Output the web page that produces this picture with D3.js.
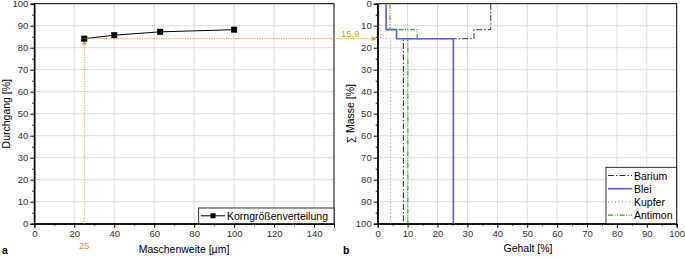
<!DOCTYPE html>
<html>
<head>
<meta charset="utf-8">
<script src="https://cdn.jsdelivr.net/npm/d3@7"></script>
<style>
  body { margin: 0; background: #fff; }
  svg { display: block; font-family: "Liberation Sans", Arial, sans-serif; }
  .tick text { fill: #333; font-size: 9.5px; }
  .tick line, .domain { stroke: #000; }
</style>
</head>
<body>
<svg id="chart" width="685" height="258"></svg>
<script>
// Grafik a: Korngrößenverteilung (Durchgang über Maschenweite)
const siebWeiten = [25, 40, 63, 100];
const durchgang = [84.1, 85.7, 87.2, 88.2];
const markWeite = 25;
const markDurchgang = 84.1;

// Grafik b: Gehalt über kumulierter Masse (Treppenlinien)
// jede Stufe: [Gehalt, Masse von, Masse bis]
const barium = [[37.8, 0, 11.8], [32.2, 11.8, 15.9], [8.6, 15.9, 100]];
const blei = [[2.8, 0, 11.8], [6.3, 11.8, 15.9], [25.3, 15.9, 100]];
const kupfer = [[0.5, 0, 11.8], [1.0, 11.8, 15.9], [4.3, 15.9, 100]];
const antimon = [[4.1, 0, 11.8], [13.2, 11.8, 15.9], [10.1, 15.9, 100]];

const serien = [
  { name: "Barium", data: barium, color: "#333", dash: "6,2,1.5,2", width: 1 },
  { name: "Blei", data: blei, color: "#5a5aff", dash: null, width: 1.6 },
  { name: "Kupfer", data: kupfer, color: "#ff7070", dash: "1,2.5", width: 1.1 },
  { name: "Antimon", data: antimon, color: "#3a9a3a", dash: "5,1.5,1,1.5,1,1.5", width: 1.1 },
];

const orange = "#f7941d";
const svg = d3.select("#chart");
const yTop = 3.7, yBot = 223.7;

// ---------- Grafik a ----------
const xA = d3.scaleLinear().domain([0, 150]).range([34.3, 334]);
const yA = d3.scaleLinear().domain([0, 100]).range([yBot, yTop]);
const gA = svg.append("g");

// Gitter
gA.append("g").selectAll("line").data(d3.range(20, 150, 20)).join("line")
  .attr("x1", d => xA(d)).attr("x2", d => xA(d)).attr("y1", yTop).attr("y2", yBot)
  .attr("stroke", "#ddd");
gA.append("g").selectAll("line").data(d3.range(10, 100, 10)).join("line")
  .attr("y1", d => yA(d)).attr("y2", d => yA(d)).attr("x1", xA(0)).attr("x2", xA(150))
  .attr("stroke", "#ddd");

// Rahmen
gA.append("rect").attr("x", xA(0)).attr("y", yTop).attr("width", xA(150) - xA(0))
  .attr("height", yBot - yTop).attr("fill", "none").attr("stroke", "#000");

// Achsen mit Nebenstrichen
gA.append("g").attr("transform", `translate(0,${yBot})`)
  .call(d3.axisBottom(xA).tickValues(d3.range(10, 150, 20)).tickSize(2).tickFormat(""));
gA.append("g").attr("transform", `translate(0,${yBot})`)
  .call(d3.axisBottom(xA).tickValues(d3.range(0, 141, 20)).tickSize(4).tickPadding(3));
gA.append("g").attr("transform", `translate(${xA(0)},0)`)
  .call(d3.axisLeft(yA).tickValues(d3.range(5, 100, 10)).tickSize(2).tickFormat(""));
gA.append("g").attr("transform", `translate(${xA(0)},0)`)
  .call(d3.axisLeft(yA).tickValues(d3.range(0, 101, 10)).tickSize(4).tickPadding(2));

// Markierungslinien (orange, gepunktet)
gA.append("line").attr("x1", xA(markWeite)).attr("x2", xA(markWeite))
  .attr("y1", yA(markDurchgang) + 4).attr("y2", yBot)
  .attr("stroke", orange).attr("stroke-dasharray", "1.2,1.2");
gA.append("path")
  .attr("d", `M${xA(markWeite)},${yA(markDurchgang) + 1} l-2.5,5 l5,0 z`)
  .attr("fill", orange);

// Linie + Punkte
const lineA = d3.line().x((d, i) => xA(siebWeiten[i])).y(d => yA(d));
gA.append("path").datum(durchgang).attr("d", lineA)
  .attr("fill", "none").attr("stroke", "#000").attr("stroke-width", 1);
gA.selectAll(".pt").data(durchgang).join("rect").attr("class", "pt")
  .attr("x", (d, i) => xA(siebWeiten[i]) - 3).attr("y", d => yA(d) - 3)
  .attr("width", 6).attr("height", 6).attr("fill", "#000");

// Beschriftungen
gA.append("text").attr("x", xA(markWeite)).attr("y", 249).attr("text-anchor", "middle")
  .attr("font-size", 9.5).attr("fill", orange).text(markWeite);
gA.append("text").attr("x", 184).attr("y", 253).attr("text-anchor", "middle")
  .attr("font-size", 10.5).text("Maschenweite [µm]");
gA.append("text").attr("transform", `translate(10,${(yTop + yBot) / 2}) rotate(-90)`)
  .attr("text-anchor", "middle").attr("font-size", 10.5).text("Durchgang [%]");
gA.append("text").attr("x", 2).attr("y", 254).attr("font-size", 10.5)
  .attr("font-weight", "bold").text("a");

// Legende
const legA = gA.append("g");
legA.append("rect").attr("x", 198.7).attr("y", 208).attr("width", xA(150) - 198.7)
  .attr("height", yBot - 208).attr("fill", "#fff").attr("stroke", "#000").attr("stroke-width", 0.8);
legA.append("line").attr("x1", 201).attr("x2", 225).attr("y1", 215.8).attr("y2", 215.8)
  .attr("stroke", "#000");
legA.append("rect").attr("x", 210.5).attr("y", 213.3).attr("width", 5).attr("height", 5).attr("fill", "#000");
legA.append("text").attr("x", 227).attr("y", 219.7).attr("font-size", 10.5)
  .text("Korngrößenverteilung");

// ---------- Grafik b ----------
const xB = d3.scaleLinear().domain([0, 100]).range([377.7, 676.7]);
const yB = d3.scaleLinear().domain([0, 100]).range([yTop, yBot]);
const gB = svg.append("g");

gB.append("g").selectAll("line").data(d3.range(10, 100, 10)).join("line")
  .attr("x1", d => xB(d)).attr("x2", d => xB(d)).attr("y1", yTop).attr("y2", yBot)
  .attr("stroke", "#ddd");
gB.append("g").selectAll("line").data(d3.range(10, 100, 10)).join("line")
  .attr("y1", d => yB(d)).attr("y2", d => yB(d)).attr("x1", xB(0)).attr("x2", xB(100))
  .attr("stroke", "#ddd");

gB.append("rect").attr("x", xB(0)).attr("y", yTop).attr("width", xB(100) - xB(0))
  .attr("height", yBot - yTop).attr("fill", "none").attr("stroke", "#000");

gB.append("g").attr("transform", `translate(0,${yBot})`)
  .call(d3.axisBottom(xB).tickValues(d3.range(5, 100, 10)).tickSize(2).tickFormat(""));
gB.append("g").attr("transform", `translate(0,${yBot})`)
  .call(d3.axisBottom(xB).tickValues(d3.range(0, 101, 10)).tickSize(4).tickPadding(3));
gB.append("g").attr("transform", `translate(${xB(0)},0)`)
  .call(d3.axisLeft(yB).tickValues(d3.range(5, 100, 10)).tickSize(2).tickFormat(""));
gB.append("g").attr("transform", `translate(${xB(0)},0)`)
  .call(d3.axisLeft(yB).tickValues(d3.range(0, 101, 10)).tickSize(4).tickPadding(2));

// Treppenlinien
const stepLine = d3.line().x(d => xB(d[0])).y(d => yB(d[1]));
serien.forEach(s => {
  const pts = [];
  s.data.forEach(([g, m0, m1]) => { pts.push([g, m0], [g, m1]); });
  gB.append("path").datum(pts).attr("d", stepLine).attr("fill", "none")
    .attr("stroke", s.color).attr("stroke-width", s.width)
    .attr("stroke-dasharray", s.dash);
});

// Verbindungslinie 15,9 (aus Grafik a)
svg.append("line").attr("x1", xA(markWeite)).attr("x2", xB(0) - 4)
  .attr("y1", yA(markDurchgang)).attr("y2", yA(markDurchgang))
  .attr("stroke", orange).attr("stroke-dasharray", "1.2,1.2");
svg.append("path")
  .attr("d", `M${xB(0) - 1},${yB(100 - markDurchgang)} l-5,-2.5 l0,5 z`).attr("fill", orange);
svg.append("text").attr("x", 341).attr("y", 36.5).attr("font-size", 9.5).attr("fill", orange)
  .text(d3.format(".1f")(100 - markDurchgang).replace(".", ","));

gB.append("text").attr("x", 528).attr("y", 252).attr("text-anchor", "middle")
  .attr("font-size", 10.5).text("Gehalt [%]");
gB.append("text").attr("transform", `translate(354,${(yTop + yBot) / 2}) rotate(-90)`)
  .attr("text-anchor", "middle").attr("font-size", 10.5).text("∑ Masse [%]");
gB.append("text").attr("x", 343).attr("y", 254).attr("font-size", 10.5)
  .attr("font-weight", "bold").text("b");

// Legende b
const legB = gB.append("g");
legB.append("rect").attr("x", 606).attr("y", 167.3).attr("width", xB(100) - 606)
  .attr("height", yBot - 167.3).attr("fill", "#fff").attr("stroke", "#000").attr("stroke-width", 0.8);
serien.forEach((s, i) => {
  const y = 175.5 + i * 13.2;
  legB.append("line").attr("x1", 608).attr("x2", 632).attr("y1", y).attr("y2", y)
    .attr("stroke", s.color).attr("stroke-width", s.width).attr("stroke-dasharray", s.dash);
  legB.append("text").attr("x", 634).attr("y", y + 4).attr("font-size", 10.5).text(s.name);
});
</script>
</body>
</html>
